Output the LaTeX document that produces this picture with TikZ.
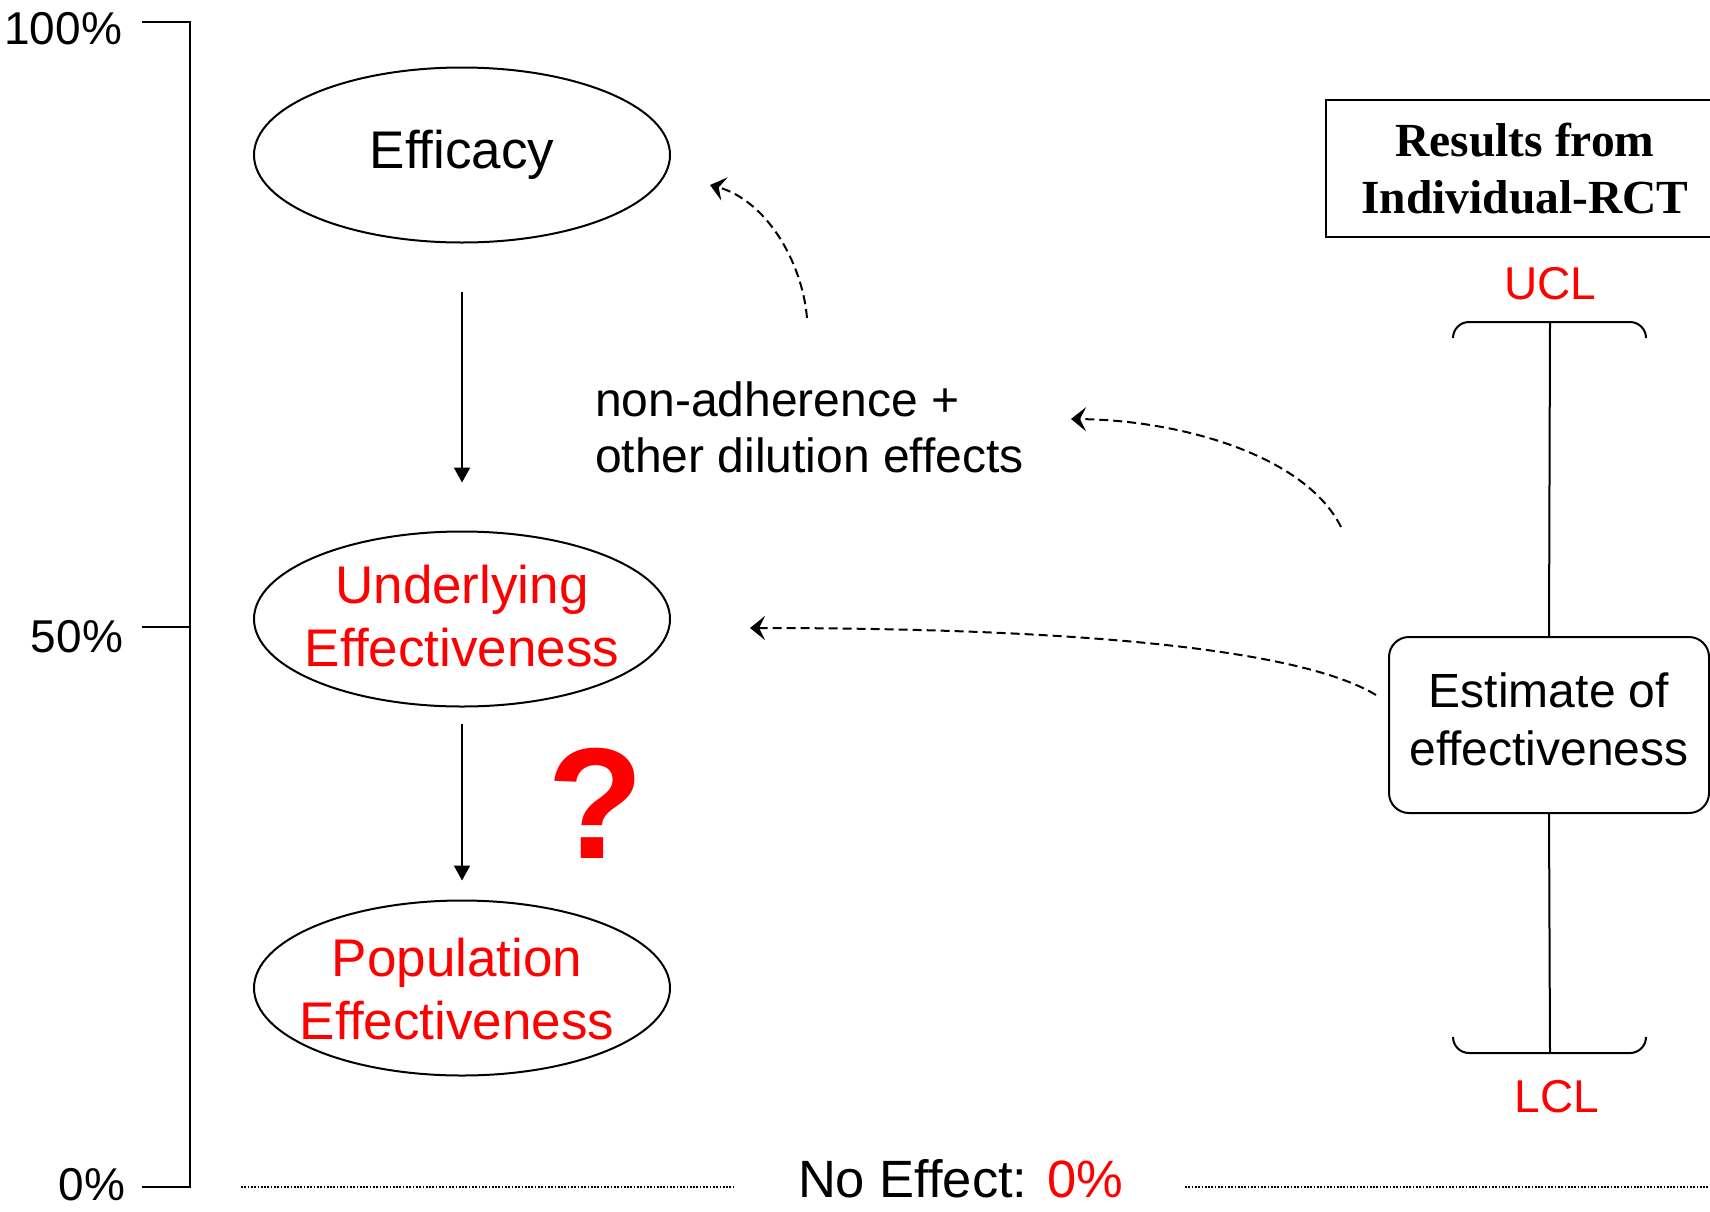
\documentclass[tikz,border=0pt]{standalone}
\usepackage{fontspec}
\setmainfont{Liberation Sans}
\newfontfamily\timesfont{Liberation Serif}
\usetikzlibrary{arrows.meta,shapes.geometric}
\definecolor{hired}{RGB}{255,0,0}
\begin{document}
\begin{tikzpicture}[x=1pt,y=-1pt,line width=2pt,
  oval/.style={draw, ellipse, minimum width=416pt, minimum height=175pt, inner sep=0pt},
  ovaltext/.style={inner sep=0pt, align=center, font=\fontsize{53}{63}\selectfont},
  axislabel/.style={anchor=base east, inner sep=0pt, font=\fontsize{46}{52}\selectfont},
  flow/.style={-{Triangle[length=15pt,width=16pt]}},
  influence/.style={dash pattern=on 9pt off 5pt,
    -{Stealth[length=15pt,width=24pt,inset=6pt]}},
  baseline0/.style={dash pattern=on 1.7pt off 1.6pt, line width=1.8pt},
  limitlabel/.style={anchor=base, inner sep=0pt, text=hired, font=\fontsize{46}{52}\selectfont}
]
\useasboundingbox (0,0) rectangle (1710,1211);

% vertical percentage scale
\draw (142,22) -- (190,22) -- (190,1187) -- (142,1187);
\draw (142,627) -- (190,627);
\node[axislabel] (p100) at (123,44) {100\%};
\node[axislabel] (p50) at (124,652) {50\%};
\node[axislabel] (p0) at (126,1200) {0\%};

% chain of effect measures
\node[oval] (eff) at (462,155) {};
\node[oval] (und) at (462,619) {};
\node[oval] (pop) at (462,988) {};
\node[ovaltext] (efftext) at (eff.center) {Efficacy};
\node[ovaltext, text=hired] (undtext) at ([yshift=3pt]und.center) {Underlying\\Effectiveness};
\node[ovaltext, text=hired] (poptext) at ([xshift=-5pt,yshift=-1pt]pop.center) {Population\\Effectiveness};
\draw[flow, shorten <=48pt, shorten >=48pt] (eff.south) -- (und.north);
\draw[flow, shorten <=16pt, shorten >=19pt] (und.south) -- (pop.north);

\node[anchor=base, inner sep=0pt, text=hired, font=\fontsize{158}{160}\selectfont\bfseries] (q) at (596,858) {?};

\node[anchor=base west, inner sep=0pt, align=left, font=\fontsize{48}{56}\selectfont] (dil) at (594,472)
  {non-adherence +\\other dilution effects};

% trial results with confidence limits
\node[draw, minimum width=398pt, minimum height=137pt, inner sep=0pt, align=center,
  font=\fontsize{47.5}{57}\selectfont\timesfont\bfseries] (rct) at (1525,168.5)
  {Results from\\Individual-RCT};

\node[draw, fill=white, rounded corners=20pt, minimum width=320pt, minimum height=176pt,
  inner sep=0pt] (est) at (1549,725) {};
\node[inner sep=0pt, align=center, font=\fontsize{48}{58}\selectfont] (esttext)
  at ([yshift=6pt]est.center) {Estimate of\\effectiveness};

\coordinate (ucl) at (1550,322);
\coordinate (lcl) at (1550,1053);
\draw[rounded corners=16pt] (1453,338) -- (1453,322) -- (1646,322) -- (1646,338);
\draw[rounded corners=16pt] (1453,1037) -- (1453,1053) -- (1646,1053) -- (1646,1037);
\draw (ucl) -- (est.north);
\draw (est.south) -- (lcl);
\node[limitlabel] (ucltext) at (1550,299) {UCL};
\node[limitlabel] (lcltext) at (1557,1112) {LCL};

% dashed influence arrows
\coordinate (a1s) at (807,318);
\coordinate (a1e) at (710,185);
\coordinate (a2s) at (1341,527);
\coordinate (a2e) at (1071,419);
\coordinate (a3s) at (1376,695);
\coordinate (a3e) at (750,628);
\draw[influence] (a1s) .. controls (802,260) and (765,200) .. (a1e);
\draw[influence] (a2s) .. controls (1305,455) and (1180,420) .. (a2e);
\draw[influence] (a3s) .. controls (1285,640) and (1000,628) .. (a3e);

% no-effect reference line
\node[anchor=base west, inner sep=0pt, font=\fontsize{52.5}{58}\selectfont] (none) at (797,1197)
  {No Effect: \textcolor{hired}{0\%}};
\coordinate (l1) at (241,1187);
\coordinate (l2) at (733,1187);
\coordinate (r1) at (1185,1187);
\coordinate (r2) at (1712,1187);
\draw[baseline0] (l1) -- (l2);
\draw[baseline0] (r1) -- (r2);
\end{tikzpicture}
\end{document}
